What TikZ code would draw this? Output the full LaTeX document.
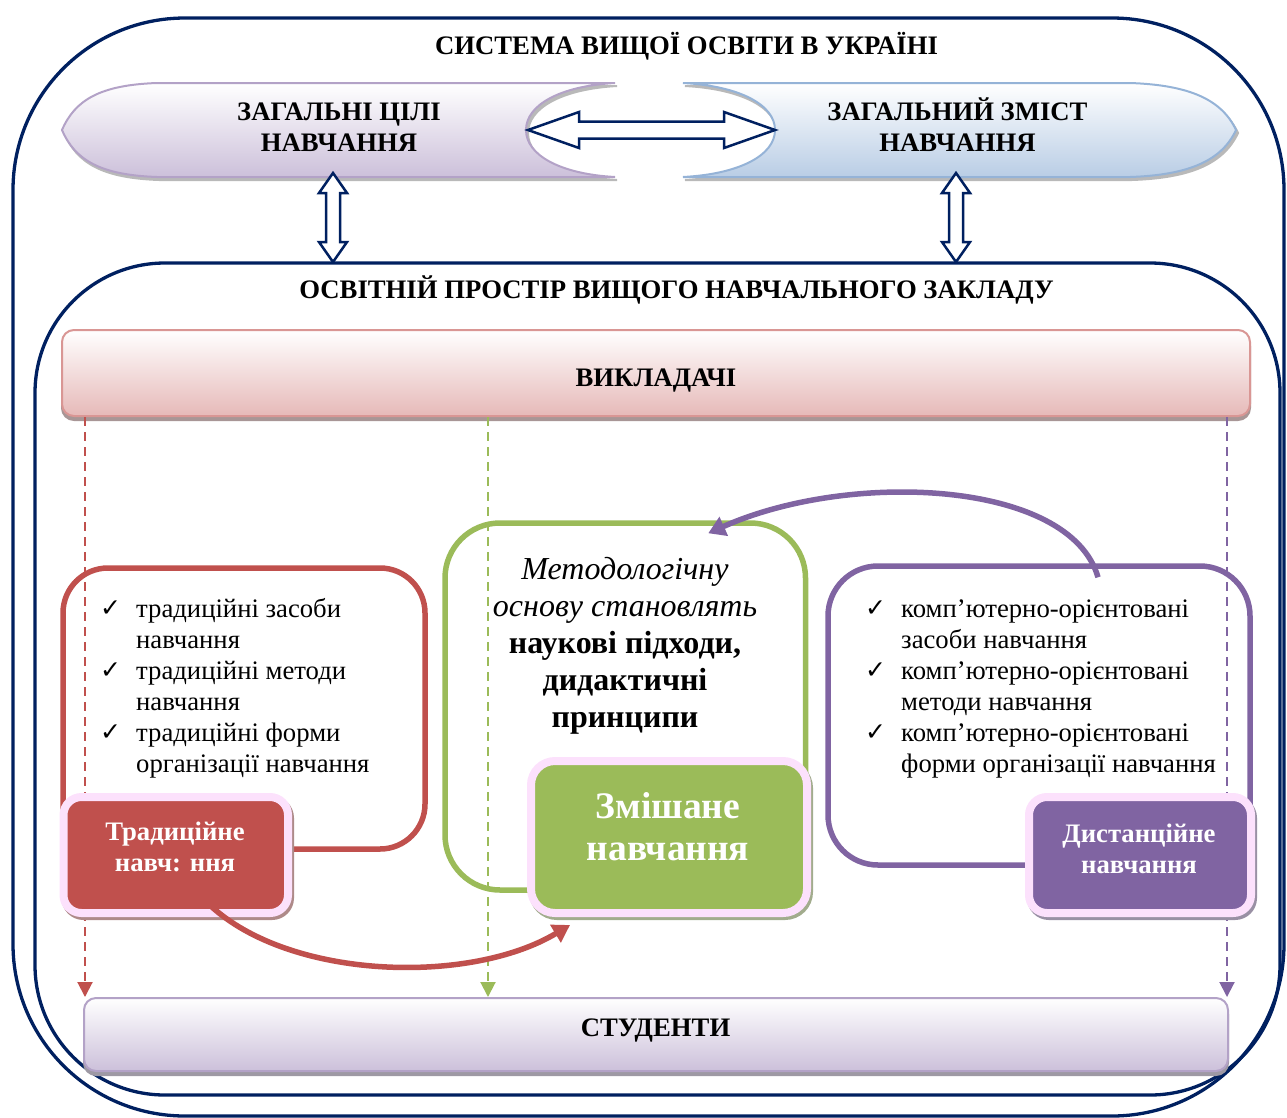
\documentclass[tikz,border=0pt]{standalone}
\usepackage{fontspec}
\setmainfont{Liberation Serif}
\newfontfamily\ckfont{DejaVu Sans}
\usetikzlibrary{arrows.meta,calc}
\definecolor{navy}{HTML}{002060}
\definecolor{lavb}{HTML}{B3A2C7}
\definecolor{lavf}{HTML}{CCC0DA}
\definecolor{blub}{HTML}{95B3D7}
\definecolor{bluf}{HTML}{B9CDE5}
\definecolor{pinkb}{HTML}{D99694}
\definecolor{pinkf}{HTML}{E6B9B8}
\definecolor{cred}{HTML}{C0504D}
\definecolor{cgreen}{HTML}{9BBB59}
\definecolor{cpurple}{HTML}{8064A2}
\definecolor{halo}{HTML}{FCE1FC}
\newcommand\fbase{\fontsize{26.7pt}{31pt}\selectfont}
\newcommand\fgreen{\fontsize{32pt}{37pt}\selectfont}
\newcommand\fmix{\fontsize{37.5pt}{42pt}\selectfont}
\newcommand\mlines[1]{\begin{tabular}[t]{@{}c@{}}#1\end{tabular}}
\newcommand\ck{\makebox[36pt][l]{\raisebox{1pt}{\ckfont\bfseries\fontsize{25pt}{25pt}\selectfont ✓}}}
\tikzset{
  frame/.style={draw=navy, line width=3.3pt},
  banner/.style 2 args={draw=#1, line width=2pt, top color=white, bottom color=#2,
     preaction={fill=gray!55, draw=gray!55, line width=2pt, transform canvas={xshift=2pt,yshift=-3pt}}},
  bar/.style 2 args={draw=#1, line width=2pt, rounded corners=12pt, top color=white, bottom color=#2, inner sep=0pt,
     preaction={fill=gray!60!#2, draw=gray!60!#2, line width=2pt, transform canvas={yshift=-4pt}}},
  dbl/.style={draw=navy, fill=white, line width=2.5pt, line join=miter},
  obox/.style={draw=#1, line width=5.5pt, inner sep=0pt},
  fbox/.style={fill=#1, draw=halo, line width=8pt, rounded corners=18pt, inner sep=0pt,
     preaction={fill=#1!40!gray!80, draw=#1!40!gray!80, line width=8pt, transform canvas={xshift=2pt,yshift=-3pt}}},
  txt/.style={inner sep=0pt, font=\fbase},
  dsh/.style={draw=#1, line width=2pt, dash pattern=on 9pt off 6pt, -{Triangle[length=15pt,width=15pt,fill=#1]}},
  carrow/.style={draw=#1, line width=5.5pt, -{Triangle[length=17pt,width=20pt,fill=#1]}},
}
\begin{document}
\begin{tikzpicture}[x=1pt,y=-1pt]
\useasboundingbox (0,0) rectangle (1287,1117);
% frames
\draw[frame, rounded corners=172pt] (13,18) rectangle (1284,1116);
\draw[frame, rounded corners=130pt] (35,263) rectangle (1280,1095);
\node[txt, font=\fbase\bfseries, anchor=base] (title) at (686.5,54) {СИСТЕМА ВИЩОЇ ОСВІТИ В УКРАЇНІ};
% banners
\path[banner={lavb}{lavf}] (157,83) -- (615,83) .. controls (560,86) and (526,105) .. (526,130)
   .. controls (526,155) and (560,174) .. (615,177) -- (157,177)
   .. controls (100,175) and (75,160) .. (62,130) .. controls (75,100) and (100,85) .. (157,83) -- cycle;
\path[banner={blub}{bluf}] (683,83) -- (1130,83) .. controls (1190,85) and (1222,100) .. (1236,130)
   .. controls (1222,160) and (1190,175) .. (1130,177) -- (683,177)
   .. controls (740,174) and (775,155) .. (775,130) .. controls (775,105) and (740,86) .. (683,83) -- cycle;
\node[txt, font=\fbase\bfseries, anchor=base] (goals) at (339,120) {\mlines{ЗАГАЛЬНІ ЦІЛІ\\НАВЧАННЯ}};
\node[txt, font=\fbase\bfseries, anchor=base] (content) at (957.5,120) {\mlines{ЗАГАЛЬНИЙ ЗМІСТ\\НАВЧАННЯ}};
% double arrows
\coordinate (ha) at (651.5,130);
\coordinate (va) at (333,217.5);
\coordinate (vb) at (956,217.5);
\draw[dbl, shift={(ha)}] (-123.5,0) -- (-72.5,-18) -- (-72.5,-8.5) -- (72.5,-8.5) -- (72.5,-18) -- (123.5,0)
   -- (72.5,18) -- (72.5,8.5) -- (-72.5,8.5) -- (-72.5,18) -- cycle;
\foreach \c in {va,vb}{
\draw[dbl, shift={(\c)}] (0,-44.5) -- (14,-24.5) -- (7,-24.5) -- (7,24.5) -- (14,24.5) -- (0,44.5)
   -- (-14,24.5) -- (-7,24.5) -- (-7,-24.5) -- (-14,-24.5) -- cycle;
}
\node[txt, font=\fbase\bfseries, anchor=base] (space) at (676.5,298) {ОСВІТНІЙ ПРОСТІР ВИЩОГО НАВЧАЛЬНОГО ЗАКЛАДУ};
% bars
\node[bar={pinkb}{pinkf}, minimum width=1188pt, minimum height=86pt] (teach) at (656,373) {};
\node[txt, font=\fbase\bfseries, anchor=base] (teachl) at (656,386) {ВИКЛАДАЧІ};
\node[bar={lavb}{lavf}, minimum width=1144pt, minimum height=73pt] (stud) at (656,1034.5) {};
\node[txt, font=\fbase\bfseries, anchor=base] (studl) at (655.5,1036) {СТУДЕНТИ};
% outline boxes
\node[obox=cred, rounded corners=45pt, minimum width=362pt, minimum height=281pt] (rbox) at (244,708.5) {};
\node[obox=cgreen, rounded corners=55pt, minimum width=360.5pt, minimum height=367pt] (gbox) at (625.25,706.5) {};
\node[obox=cpurple, rounded corners=50pt, minimum width=422pt, minimum height=299pt] (pbox) at (1039,715.5) {};
% dashed arrows
\coordinate (d1) at (85,0);
\coordinate (d2) at (488,0);
\coordinate (d3) at (1227,0);
\draw[dsh=cred] (teach.south -| d1) -- (stud.north -| d1);
\draw[dsh=cgreen] (teach.south -| d2) -- (stud.north -| d2);
\draw[dsh=cpurple] (teach.south -| d3) -- (stud.north -| d3);
% filled boxes
\node[fbox=cred, minimum width=224.5pt, minimum height=116pt] (trad) at (175.75,855) {};
\node[fbox=cgreen, rounded corners=24pt, minimum width=276pt, minimum height=152pt] (mixed) at (669,837) {};
\node[fbox=cpurple, minimum width=222pt, minimum height=116pt] (dist) at (1140,855) {};
% texts
\node[txt, anchor=base west] (rlist) at (100,617) {\begin{tabular}[t]{@{}l@{}l@{}}\ck & традиційні засоби\\ & навчання\\ \ck & традиційні методи\\ & навчання\\ \ck & традиційні форми\\ & організації навчання\end{tabular}};
\node[txt, anchor=base west] (plist) at (865,617) {\begin{tabular}[t]{@{}l@{}l@{}}\ck & комп’ютерно-орієнтовані\\ & засоби навчання\\ \ck & комп’ютерно-орієнтовані\\ & методи навчання\\ \ck & комп’ютерно-орієнтовані\\ & форми організації навчання\end{tabular}};
\node[txt, font=\fgreen, anchor=base] (gtext) at (625,579) {\mlines{\itshape Методологічну\\ \itshape основу становлять\\ \bfseries наукові підходи,\\ \bfseries дидактичні\\ \bfseries принципи}};
\node[txt, font=\fmix\bfseries, text=white, anchor=base] (mixl) at (668,818) {\mlines{Змішане\\навчання}};
\node[txt, font=\fbase\bfseries, text=white, anchor=base] (tradl) at (175,840) {\mlines{Традиційне\\навч: ння}};
\node[txt, font=\fbase\bfseries, text=white, anchor=base] (distl) at (1139,842) {\mlines{Дистанційне\\навчання}};
% curved arrows
\draw[carrow=cred] ($(trad.south)+(34,-12)$) .. controls (290,980) and (470,985) .. ($(mixed.south west)+(43,8)$);
\draw[carrow=cpurple] ($(pbox.north)+(59,14)$) .. controls (1070,480) and (850,470) .. ($(gbox.north)+(83,13)$);
\end{tikzpicture}
\end{document}
